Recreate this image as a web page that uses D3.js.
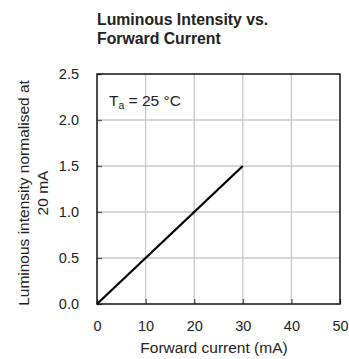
<!DOCTYPE html>
<html><head><meta charset="utf-8">
<script src="https://cdn.jsdelivr.net/npm/d3@7"></script>
<style>body{margin:0;background:#fff;} svg{display:block;font-family:"Liberation Sans",Arial,sans-serif;}</style>
</head><body>
<script>
const currentMA = [0, 30];
const intensity = [0, 1.5];
const xTicks = [0, 10, 20, 30, 40, 50];
const yTicks = [0, 0.5, 1.0, 1.5, 2.0, 2.5];
const titleLines = ["Luminous Intensity vs.", "Forward Current"];
const yLabelLines = ["Luminous intensity normalised at", "20 mA"];
const xLabel = "Forward current (mA)";

const W = 349, H = 359;
const m = {l: 97, r: 9, t: 74, b: 55};
const svg = d3.select("body").append("svg").attr("width", W).attr("height", H);
const x = d3.scaleLinear().domain([0, 50]).range([m.l, W - m.r]);
const y = d3.scaleLinear().domain([0, 2.5]).range([H - m.b, m.t]);

// grid
svg.append("g").selectAll("line").data(xTicks.slice(1, -1)).join("line")
  .attr("x1", d => x(d)).attr("x2", d => x(d)).attr("y1", y(0)).attr("y2", y(2.5))
  .attr("stroke", "#c8c8c8").attr("stroke-width", 1.3);
svg.append("g").selectAll("line").data(yTicks.slice(1, -1)).join("line")
  .attr("x1", x(0)).attr("x2", x(50)).attr("y1", d => y(d)).attr("y2", d => y(d))
  .attr("stroke", "#c8c8c8").attr("stroke-width", 1.3);

// axes
const gx = svg.append("g").attr("transform", `translate(0,${y(0)})`)
  .call(d3.axisBottom(x).tickValues(xTicks).tickSizeInner(-5).tickSizeOuter(0).tickPadding(17).tickFormat(d3.format("d")));
const gy = svg.append("g").attr("transform", `translate(${x(0)},0)`)
  .call(d3.axisLeft(y).tickValues(yTicks).tickSizeInner(-5).tickSizeOuter(0).tickPadding(18).tickFormat(d3.format(".1f")));
[gx, gy].forEach(g => {
  g.select(".domain").remove();
  g.selectAll(".tick line").attr("stroke", "#555").attr("stroke-width", 1.3);
  g.selectAll(".tick text").attr("font-size", 14.5).attr("fill", "#222").attr("font-family", "Liberation Sans, Arial, sans-serif");
});

// frame
svg.append("rect").attr("x", x(0)).attr("y", y(2.5)).attr("width", x(50) - x(0)).attr("height", y(0) - y(2.5))
  .attr("fill", "none").attr("stroke", "#111").attr("stroke-width", 1.5);

// line
svg.append("path").datum(currentMA.map((d, i) => [d, intensity[i]]))
  .attr("d", d3.line().x(d => x(d[0])).y(d => y(d[1])))
  .attr("fill", "none").attr("stroke", "#000").attr("stroke-width", 2.3);

// annotation
const ann = svg.append("text").attr("x", 109).attr("y", 106).attr("font-size", 15.5).attr("fill", "#222");
ann.append("tspan").text("T");
ann.append("tspan").attr("font-size", 10.5).attr("dy", 3).text("a");
ann.append("tspan").attr("dy", -3).text(" = 25 °C");

// title
svg.append("text").attr("x", 97).attr("y", 25).attr("font-size", 15.8).attr("font-weight", "bold").attr("fill", "#222")
  .selectAll("tspan").data(titleLines).join("tspan").attr("x", 97).attr("dy", (d, i) => i ? 18.5 : 0).text(d => d);

// x label
svg.append("text").attr("x", 214).attr("y", 353).attr("text-anchor", "middle")
  .attr("font-size", 15.5).attr("fill", "#222").text(xLabel);

// y label
const yl = svg.append("text").attr("transform", `translate(29,${(y(0) + y(2.5)) / 2 + 4}) rotate(-90)`)
  .attr("text-anchor", "middle").attr("font-size", 15.5).attr("fill", "#222");
yl.selectAll("tspan").data(yLabelLines).join("tspan").attr("x", 0).attr("dy", (d, i) => i ? 19 : 0).text(d => d);
</script>
</body></html>
